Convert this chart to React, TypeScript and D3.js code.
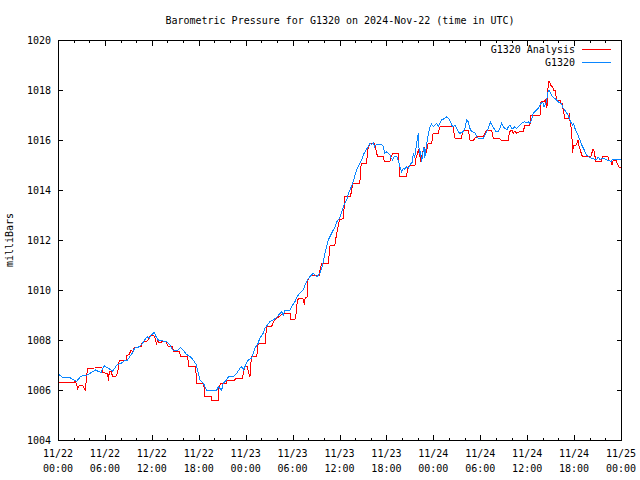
import React from 'react';
import * as d3 from 'd3';

const title = 'Barometric Pressure for G1320 on 2024-Nov-22 (time in UTC)';
const yLabel = 'milliBars';
const seriesNames = ['G1320 Analysis', 'G1320'];
const seriesColors = ['#ff0000', '#0a86ff'];
const startUtc = Date.UTC(2024, 10, 22, 0, 0);
const endUtc = Date.UTC(2024, 10, 25, 0, 0);
const yDomain = [1004, 1020];
const yTickValues = [1004, 1006, 1008, 1010, 1012, 1014, 1016, 1018, 1020];

// hours after 2024-11-22 00:00 UTC
const analysisHours = [
  0, 1.0, 1.02, 2.1, 2.2, 2.39, 2.51, 2.73, 3.15, 3.37, 3.5, 3.67, 3.79, 5.63, 5.71, 6.35, 6.44, 6.56, 6.78, 6.99,
  7.42, 7.63, 7.76, 7.84, 8.7, 8.78, 9.12, 9.34, 9.55, 9.76, 10.61, 10.74, 11.04, 11.47, 11.68, 11.89, 12.1, 12.32,
  12.6, 12.74, 12.87, 13.6, 13.81, 14.03, 14.66, 14.74, 15.5, 15.73, 16.58, 16.71, 17.6, 17.73, 18.5, 18.71, 18.8,
  19.6, 19.65, 20.5, 20.6, 20.8, 21.57, 21.65, 22.6, 22.76, 23.6, 23.7, 23.9, 24.2, 24.35, 24.55, 24.6, 24.77, 25.4,
  25.5, 25.6, 26.5, 26.6, 26.7, 27.3, 27.5, 27.7, 27.96, 28.7, 28.8, 29.67, 29.8, 30.4, 30.5, 30.73, 31.3, 31.4, 31.5,
  31.6, 31.88, 31.97, 32.2, 32.65, 33.4, 33.5, 33.72, 34.57, 34.7, 34.8, 35.4, 35.64, 35.85, 36.0, 36.49, 36.7, 37.4,
  37.55, 37.76, 38.6, 38.7, 38.84, 39.47, 39.6, 39.9, 40.5, 40.66, 40.84, 41.6, 41.73, 42.45, 42.6, 42.8, 43.5, 43.6,
  43.73, 44.58, 44.7, 45.0, 45.65, 45.78, 46.08, 46.3, 46.37, 46.6, 46.8, 46.93, 47.1, 47.35, 47.8, 47.9, 48.0, 48.63,
  48.85, 50.55, 50.64, 50.77, 51.6, 51.7, 51.84, 52.47, 52.6, 52.7, 53.1, 53.3, 53.6, 54.4, 54.6, 54.8, 55.45, 55.66,
  56.5, 56.73, 57.6, 57.7, 57.9, 58.1, 58.2, 58.4, 58.65, 59.0, 59.5, 59.7, 60.36, 60.45, 61.64, 61.77, 62.15, 62.3,
  62.4, 62.5, 62.6, 62.7, 62.9, 62.98, 63.25, 63.4, 63.55, 63.7, 63.76, 64.2, 64.28, 64.5, 64.6, 64.83, 65.25, 65.4,
  65.5, 65.56, 65.7, 65.8, 65.9, 66.3, 66.4, 66.5, 66.65, 66.8, 66.97, 67.2, 68.2, 68.36, 68.5, 68.6, 68.8, 69.5,
  69.63, 69.7, 70.3, 70.45, 70.7, 70.86, 71.0, 71.4, 71.6, 71.77, 71.95,
];
const analysisValues = [
  1006.29, 1006.29, 1006.32, 1006.32, 1006.36, 1006.2, 1006.07, 1006.2, 1006.2, 1006.07, 1006.0, 1006.56, 1006.87,
  1006.89, 1006.69, 1006.67, 1006.36, 1006.73, 1006.76, 1006.53, 1006.56, 1006.67, 1007.07, 1007.17, 1007.2, 1007.37,
  1007.43, 1007.6, 1007.53, 1007.71, 1007.73, 1007.87, 1007.93, 1007.97, 1008.11, 1008.2, 1008.2, 1008.16, 1007.85,
  1007.97, 1007.89, 1007.95, 1007.93, 1007.76, 1007.73, 1007.56, 1007.53, 1007.33, 1007.33, 1006.93, 1006.93, 1006.27,
  1006.27, 1006.07, 1005.73, 1005.73, 1005.6, 1005.6, 1006.13, 1006.27, 1006.27, 1006.4, 1006.4, 1006.47, 1006.47,
  1006.67, 1006.93, 1006.93, 1006.73, 1006.53, 1006.9, 1007.33, 1007.33, 1007.53, 1007.87, 1007.87, 1008.27, 1008.53,
  1008.53, 1008.67, 1008.8, 1008.87, 1009.03, 1009.07, 1009.07, 1008.8, 1008.85, 1009.33, 1009.67, 1009.67, 1009.6,
  1009.4, 1009.67, 1009.73, 1010.4, 1010.53, 1010.6, 1010.6, 1010.8, 1011.07, 1011.07, 1011.47, 1011.8, 1011.8,
  1012.27, 1012.6, 1012.8, 1012.87, 1013.73, 1013.73, 1014.0, 1014.27, 1014.27, 1014.87, 1015.07, 1015.07, 1015.6,
  1015.87, 1015.87, 1015.6, 1015.36, 1015.36, 1015.13, 1015.13, 1015.33, 1015.47, 1015.47, 1015.13, 1014.53, 1014.53,
  1014.87, 1015.0, 1015.0, 1015.27, 1015.6, 1015.33, 1015.13, 1015.47, 1015.73, 1015.47, 1015.5, 1015.87, 1015.87,
  1016.2, 1016.27, 1016.27, 1016.53, 1016.53, 1016.27, 1016.07, 1016.07, 1016.27, 1016.4, 1016.4, 1016.2, 1015.97,
  1015.97, 1016.07, 1016.13, 1016.13, 1016.27, 1016.4, 1016.4, 1016.07, 1016.05, 1015.97, 1015.97, 1016.27, 1016.4,
  1016.4, 1016.27, 1016.35, 1016.27, 1016.33, 1016.33, 1016.6, 1016.6, 1017.0, 1017.0, 1017.53, 1017.53, 1017.6,
  1017.5, 1017.27, 1017.55, 1018.33, 1018.33, 1018.2, 1018.13, 1018.0, 1018.0, 1017.73, 1017.6, 1017.6, 1017.47,
  1017.47, 1017.2, 1016.87, 1016.87, 1017.07, 1016.67, 1016.6, 1016.33, 1015.47, 1015.76, 1015.8, 1015.9, 1016.0,
  1015.73, 1015.6, 1015.4, 1015.33, 1015.36, 1015.6, 1015.62, 1015.47, 1015.13, 1015.13, 1015.31, 1015.36, 1015.36,
  1015.2, 1015.13, 1015.0, 1015.17, 1015.17, 1015.0, 1014.91, 1014.91,
];

const obsHours = [
  0, 0.2, 0.6, 1.5, 2.0, 2.4, 2.9, 3.6, 4.0, 4.4, 4.8, 5.1, 5.5, 5.9, 6.3, 6.8, 7.0, 7.2, 7.6, 8.0, 8.5, 8.9, 9.1,
  9.5, 9.8, 10.4, 10.8, 11.25, 11.5, 11.7, 11.9, 12.1, 12.3, 12.55, 12.75, 13.0, 13.8, 14.0, 14.3, 14.66, 15.2, 15.7,
  16.0, 16.4, 16.9, 17.3, 17.7, 17.94, 18.16, 18.6, 19.0, 20.3, 20.5, 20.7, 20.93, 21.14, 21.57, 21.8, 22.4, 22.85,
  23.27, 23.5, 23.7, 23.9, 24.1, 24.33, 24.77, 24.98, 25.19, 25.6, 25.8, 26.25, 26.47, 26.77, 27.1, 27.53, 28.04,
  28.4, 28.6, 28.8, 29.03, 29.67, 29.88, 30.3, 30.5, 30.73, 31.37, 31.6, 31.88, 32.2, 32.65, 33.08, 33.3, 33.5,
  33.72, 33.93, 34.14, 34.36, 34.57, 35.0, 35.42, 35.64, 35.98, 36.28, 36.49, 36.92, 37.13, 37.43, 37.76, 37.98,
  38.2, 38.4, 38.84, 39.04, 39.26, 39.68, 39.9, 40.1, 40.33, 40.5, 40.75, 41.4, 41.6, 41.8, 42.0, 42.2, 42.45, 42.6,
  42.8, 43.0, 43.3, 43.5, 43.73, 43.94, 44.15, 44.35, 44.58, 44.8, 45.0, 45.35, 45.43, 45.6, 45.86, 46.08, 46.2,
  46.35, 46.5, 46.65, 46.8, 46.9, 47.1, 47.35, 47.57, 47.78, 48.0, 48.2, 48.42, 48.63, 48.85, 49.06, 49.5, 49.7,
  49.9, 50.1, 50.35, 50.55, 50.77, 50.98, 51.2, 51.4, 51.8, 52.05, 52.26, 52.45, 52.7, 52.9, 53.3, 53.54, 53.75,
  54.4, 54.6, 54.8, 55.03, 55.33, 55.58, 55.75, 56.0, 56.3, 56.52, 56.73, 56.95, 57.15, 57.4, 57.6, 57.8, 58.0,
  58.2, 58.4, 58.65, 59.08, 59.3, 59.7, 59.9, 60.14, 60.35, 60.57, 60.78, 61.2, 61.4, 61.64, 61.85, 62.0, 62.15,
  62.3, 62.45, 62.57, 62.7, 62.8, 63.0, 63.25, 63.5, 63.76, 64.0, 64.2, 64.4, 64.6, 64.8, 65.05, 65.25, 65.38,
  65.55, 65.8, 65.95, 66.1, 66.3, 66.5, 66.75, 66.97, 67.2, 67.4, 67.6, 67.95, 68.24, 68.6, 68.9, 69.1, 69.3,
  69.8, 70.2, 70.5, 70.7, 70.9, 71.95,
];
const obsValues = [
  1006.55, 1006.6, 1006.5, 1006.5, 1006.4, 1006.35, 1006.55, 1006.58, 1006.65, 1006.73, 1006.8, 1006.75, 1006.7,
  1006.97, 1006.9, 1006.8, 1006.75, 1006.85, 1007.03, 1007.05, 1007.17, 1007.2, 1007.3, 1007.47, 1007.67, 1007.73,
  1007.87, 1008.07, 1008.13, 1008.07, 1008.2, 1008.24, 1008.3, 1008.13, 1008.02, 1007.97, 1007.95, 1007.9, 1007.8,
  1007.6, 1007.57, 1007.7, 1007.6, 1007.43, 1007.33, 1007.2, 1007.0, 1006.67, 1006.4, 1006.27, 1006.0, 1006.0,
  1006.13, 1006.07, 1006.0, 1006.27, 1006.4, 1006.53, 1006.53, 1006.67, 1006.87, 1006.93, 1006.8, 1006.93, 1007.07,
  1007.2, 1007.27, 1007.47, 1007.67, 1007.87, 1008.07, 1008.27, 1008.47, 1008.6, 1008.73, 1008.8, 1008.93, 1009.07,
  1009.13, 1009.0, 1009.2, 1009.2, 1009.33, 1009.53, 1009.67, 1009.8, 1010.0, 1010.2, 1010.4, 1010.53, 1010.67,
  1010.53, 1010.6, 1010.67, 1010.87, 1011.13, 1011.47, 1011.73, 1012.0, 1012.27, 1012.53, 1012.73, 1012.85, 1013.13,
  1013.33, 1013.6, 1013.87, 1014.07, 1014.33, 1014.6, 1014.8, 1014.93, 1015.2, 1015.4, 1015.53, 1015.73, 1015.87,
  1015.82, 1015.89, 1015.73, 1015.83, 1015.83, 1015.73, 1015.47, 1015.53, 1015.47, 1015.4, 1015.27, 1015.2, 1015.33,
  1015.35, 1015.2, 1014.93, 1014.73, 1014.87, 1014.83, 1014.93, 1014.87, 1015.0, 1015.13, 1015.47, 1015.27, 1015.87,
  1016.27, 1015.47, 1015.53, 1015.13, 1015.47, 1015.73, 1015.27, 1015.73, 1016.2, 1016.53, 1016.64, 1016.53, 1016.6,
  1016.67, 1016.53, 1016.67, 1016.8, 1016.87, 1016.93, 1016.87, 1016.8, 1016.6, 1016.53, 1016.6, 1016.47, 1016.33,
  1016.27, 1016.33, 1016.47, 1016.8, 1016.73, 1016.45, 1016.33, 1016.3, 1016.13, 1016.07, 1016.07, 1016.2, 1016.33,
  1016.47, 1016.73, 1016.53, 1016.47, 1016.33, 1016.33, 1016.47, 1016.67, 1016.53, 1016.47, 1016.4, 1016.53, 1016.6,
  1016.47, 1016.47, 1016.53, 1016.47, 1016.6, 1016.67, 1016.73, 1016.7, 1016.73, 1016.67, 1016.8, 1017.07, 1017.2,
  1017.27, 1017.4, 1017.49, 1017.5, 1017.33, 1017.4, 1017.5, 1017.73, 1018.0, 1018.0, 1017.87, 1017.73, 1017.67,
  1017.6, 1017.53, 1017.47, 1017.47, 1017.27, 1017.2, 1017.07, 1017.0, 1016.87, 1016.73, 1016.6, 1016.67, 1016.47,
  1016.33, 1016.2, 1016.0, 1015.8, 1015.67, 1015.53, 1015.4, 1015.31, 1015.27, 1015.23, 1015.23, 1015.31, 1015.23,
  1015.27, 1015.2, 1015.2, 1015.13, 1015.23, 1015.23,
];

const W = 640;
const H = 480;
const M = { left: 58, right: 621, top: 40, bottom: 440 };
const FONT = "'DejaVu Sans Mono', 'Liberation Mono', monospace";

export default function App() {
  const x = d3
    .scaleUtc()
    .domain([new Date(startUtc), new Date(endUtc)])
    .range([M.left, M.right]);
  const y = d3.scaleLinear().domain(yDomain).range([M.bottom, M.top]);

  const toPts = (hrs: number[], vals: number[]) =>
    hrs.map((h, i) => ({ t: new Date(startUtc + h * 3600e3), v: vals[i] }));
  const series = [toPts(analysisHours, analysisValues), toPts(obsHours, obsValues)];
  const line = d3
    .line<{ t: Date; v: number }>()
    .x((d) => x(d.t))
    .y((d) => y(d.v));

  const minorTicks = x.ticks(d3.utcHour.every(2)!);
  const majorTicks = x.ticks(d3.utcHour.every(6)!);
  const fmtDate = d3.utcFormat('%m/%d');
  const fmtTime = d3.utcFormat('%H:%M');

  const r = (v: number) => Math.round(v) + 0.5;

  return (
    <svg
      width={W}
      height={H}
      viewBox={`0 0 ${W} ${H}`}
      style={{ position: 'absolute', left: 0, top: 0, background: '#fff', display: 'block' }}
    >
      <rect x={0} y={0} width={W} height={H} fill="#fff" />
      <text x={340} y={24} textAnchor="middle" fontFamily={FONT} fontSize={10} fill="#000">
        {title}
      </text>
      <text
        transform={`translate(13,240) rotate(-90)`}
        textAnchor="middle"
        fontFamily={FONT}
        fontSize={10}
        fill="#000"
      >
        {yLabel}
      </text>

      {/* y ticks */}
      {yTickValues.map((v) => (
        <g key={`y${v}`}>
          <line x1={M.left} x2={M.left + 5} y1={r(y(v))} y2={r(y(v))} stroke="#000" />
          <line x1={M.right + 1} x2={M.right - 4} y1={r(y(v))} y2={r(y(v))} stroke="#000" />
          <text x={51} y={y(v) + 4} textAnchor="end" fontFamily={FONT} fontSize={10} fill="#000">
            {v}
          </text>
        </g>
      ))}

      {/* x ticks */}
      {minorTicks.map((t) => {
        const isMajor = t.getUTCHours() % 6 === 0;
        const len = isMajor ? 6 : 3;
        const xx = r(x(t));
        return (
          <g key={`xm${t.getTime()}`}>
            <line x1={xx} x2={xx} y1={M.bottom + 1} y2={M.bottom + 1 - len} stroke="#000" />
            <line x1={xx} x2={xx} y1={M.top} y2={M.top + len} stroke="#000" />
          </g>
        );
      })}
      {majorTicks.map((t) => (
        <g key={`xl${t.getTime()}`}>
          <text x={x(t)} y={457} textAnchor="middle" fontFamily={FONT} fontSize={10} fill="#000">
            {fmtDate(t)}
          </text>
          <text x={x(t)} y={472} textAnchor="middle" fontFamily={FONT} fontSize={10} fill="#000">
            {fmtTime(t)}
          </text>
        </g>
      ))}

      {/* series */}
      {series.map((pts, i) => (
        <path
          key={`s${i}`}
          d={line(pts) || ''}
          fill="none"
          stroke={seriesColors[i]}
          strokeWidth={1}
          shapeRendering="crispEdges"
        />
      ))}

      {/* legend */}
      {seriesNames.map((name, i) => (
        <g key={`lg${i}`}>
          <text
            x={575}
            y={53 + i * 13}
            textAnchor="end"
            fontFamily={FONT}
            fontSize={10}
            fill="#000"
          >
            {name}
          </text>
          <line
            x1={582}
            x2={611}
            y1={49.5 + i * 13}
            y2={49.5 + i * 13}
            stroke={seriesColors[i]}
            strokeWidth={1}
          />
        </g>
      ))}

      {/* border */}
      <rect
        x={M.left + 0.5}
        y={M.top + 0.5}
        width={M.right - M.left}
        height={M.bottom - M.top}
        fill="none"
        stroke="#000"
        strokeWidth={1}
      />
    </svg>
  );
}
